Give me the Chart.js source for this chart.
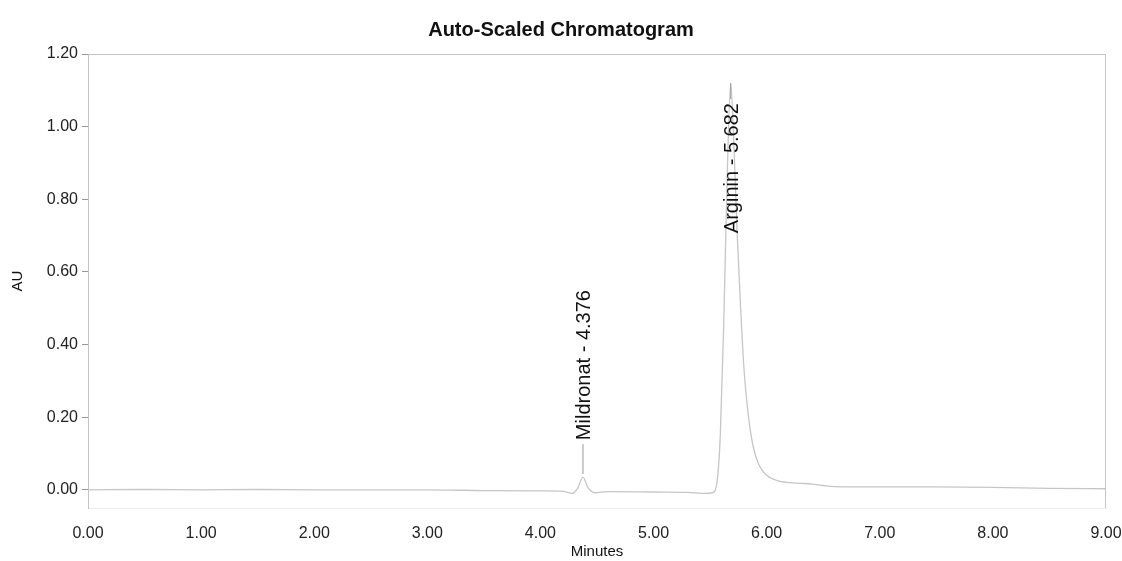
<!DOCTYPE html>
<html>
<head>
<meta charset="utf-8">
<script src="https://cdn.jsdelivr.net/npm/chart.js@4"></script>
<style>
  html, body { margin: 0; padding: 0; background: #fff; }
  #wrap { width: 1122px; height: 561px; }
</style>
</head>
<body>
<div id="wrap"><canvas id="chrom"></canvas></div>
<script>
// trace (minutes, AU)
var minutes = [0.00, 0.50, 1.00, 1.50, 2.00, 2.50, 3.00, 3.50, 4.00, 4.20, 4.28, 4.33, 4.376, 4.42, 4.48, 4.60,
               5.00, 5.30, 5.45, 5.52, 5.56, 5.59, 5.62, 5.65, 5.682, 5.71, 5.74, 5.77, 5.80, 5.84, 5.88, 5.93,
               6.00, 6.10, 6.20, 6.30, 6.40, 6.50, 6.60, 7.00, 7.50, 8.00, 8.50, 9.00];
var au      = [0.000, 0.001, 0.000, 0.001, 0.000, 0.000, 0.000, -0.002, -0.003, -0.004, -0.010, 0.005, 0.035, 0.006, -0.008, -0.005,
               -0.006, -0.007, -0.010, -0.008, 0.020, 0.150, 0.450, 0.850, 1.120, 0.950, 0.700, 0.500, 0.330, 0.200, 0.120, 0.070,
               0.040, 0.025, 0.020, 0.018, 0.016, 0.012, 0.009, 0.008, 0.008, 0.007, 0.004, 0.003];

var peakNames   = ['Mildronat', 'Arginin'];
var peakTimes   = [4.376, 5.682];
var peakHeights = [0.035, 1.120];

var xTicks = [0, 1, 2, 3, 4, 5, 6, 7, 8, 9];
var yTicks = [0.0, 0.2, 0.4, 0.6, 0.8, 1.0, 1.2];

var points = [];
for (var i = 0; i < minutes.length; i++) {
  points.push({x: minutes[i], y: au[i]});
}

var FONT = 'Liberation Sans, Arial, sans-serif';

// frame on top / right, plus the peak labels
var framePlugin = {
  id: 'frame',
  afterDatasetsDraw: function(chart) {
    var ctx = chart.ctx, a = chart.chartArea;
    ctx.save();
    ctx.strokeStyle = '#c4c4c4';
    ctx.lineWidth = 1;
    ctx.beginPath();
    ctx.moveTo(a.left, a.top + 0.5);
    ctx.lineTo(a.right, a.top + 0.5);
    ctx.moveTo(a.right - 0.5, a.top);
    ctx.lineTo(a.right - 0.5, a.bottom);
    ctx.stroke();

    var xs = chart.scales.x, ys = chart.scales.y;
    ctx.font = '20px ' + FONT;
    ctx.fillStyle = '#111';
    ctx.textBaseline = 'middle';
    for (var i = 0; i < peakNames.length; i++) {
      var txt = peakNames[i] + ' - ' + peakTimes[i].toFixed(3);
      var px = xs.getPixelForValue(peakTimes[i]);
      var py = ys.getPixelForValue(peakHeights[i]);
      var w = ctx.measureText(txt).width;
      var conn = 30, gap = 4;
      ctx.strokeStyle = '#9a9a9a';
      ctx.beginPath();
      if (py - 3 - conn - gap - w > a.top) {
        // label above the apex
        ctx.moveTo(px, py - 3);
        ctx.lineTo(px, py - 3 - conn);
        ctx.stroke();
        ctx.save();
        ctx.translate(px + 2, py - 3 - conn - gap);
        ctx.rotate(-Math.PI / 2);
        ctx.textAlign = 'left';
        ctx.fillText(txt, 0, 0);
        ctx.restore();
      } else {
        // no room: hang the label below the apex
        var c2 = 16;
        ctx.moveTo(px, py);
        ctx.lineTo(px, py + c2);
        ctx.stroke();
        ctx.save();
        ctx.translate(px + 2, py + c2 + gap);
        ctx.rotate(-Math.PI / 2);
        ctx.textAlign = 'right';
        ctx.fillText(txt, 0, 0);
        ctx.restore();
      }
    }
    ctx.restore();
  }
};

var ctx = document.getElementById('chrom').getContext('2d');

let chart = new Chart(ctx, {
  type: 'line',
  data: {
    datasets: [{
      label: 'AU',
      data: points,
      borderColor: '#c6c6c6',
      borderWidth: 1.3,
      pointRadius: 0,
      cubicInterpolationMode: 'monotone',
      fill: false
    }]
  },
  options: {
    responsive: true,
    maintainAspectRatio: false,
    animation: false,
    layout: {
      padding: {left: 0, right: 0, top: 0, bottom: 0}
    },
    plugins: {
      legend: { display: false },
      tooltip: { enabled: false },
      title: {
        display: true,
        text: 'Auto-Scaled Chromatogram',
        color: '#111',
        font: { family: FONT, size: 20, weight: 'bold' },
        padding: { top: 18, bottom: 12 }
      }
    },
    scales: {
      x: {
        type: 'linear',
        min: 0,
        max: 9,
        afterBuildTicks: function(axis) {
          axis.ticks = xTicks.map(function(v) { return {value: v}; });
        },
        afterFit: function(scale) {
          scale.height = 53;
          scale.paddingLeft = 0;
          scale.paddingRight = 16;
        },
        grid: { display: false },
        border: { display: true, color: '#ececec' },
        ticks: {
          color: '#222',
          padding: 8,
          maxRotation: 0,
          font: { family: FONT, size: 16 },
          callback: function(v) { return Number(v).toFixed(2); }
        },
        title: {
          display: true,
          text: 'Minutes',
          color: '#111',
          font: { family: FONT, size: 15 },
          padding: { top: 0, bottom: 0 }
        }
      },
      y: {
        min: -0.05,
        max: 1.2,
        afterBuildTicks: function(axis) {
          axis.ticks = yTicks.map(function(v) { return {value: v}; });
        },
        afterFit: function(scale) { scale.width = 88; },
        grid: {
          display: true,
          drawOnChartArea: false,
          drawTicks: true,
          tickLength: 6,
          color: '#9a9a9a'
        },
        border: { display: true, color: '#c4c4c4' },
        ticks: {
          color: '#222',
          padding: 4,
          font: { family: FONT, size: 16 },
          callback: function(v) { return Number(v).toFixed(2); }
        },
        title: {
          display: true,
          text: 'AU',
          color: '#111',
          font: { family: FONT, size: 15 },
          padding: { top: 9, bottom: 0 }
        }
      }
    }
  },
  plugins: [framePlugin]
});
</script>
</body>
</html>
